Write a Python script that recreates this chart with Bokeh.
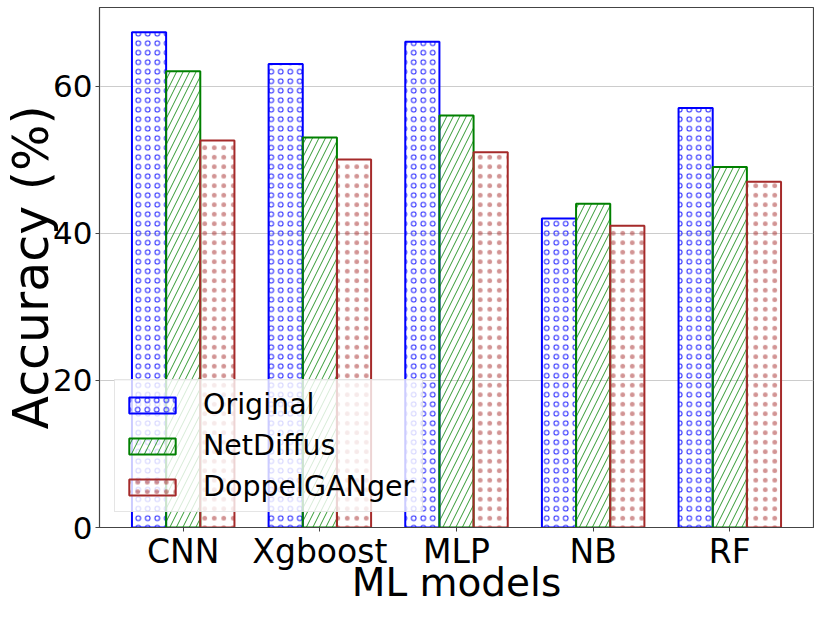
from bokeh.plotting import figure
from bokeh.models import ColumnDataSource, FixedTicker, Range1d, Legend, LegendItem
from bokeh.embed import file_html
from bokeh.resources import INLINE

models = ["CNN", "Xgboost", "MLP", "NB", "RF"]
original = [67.3, 63.0, 66.0, 42.0, 57.0]
netdiffus = [62.0, 53.0, 56.0, 44.0, 49.0]
doppelganger = [52.6, 50.0, 51.0, 41.0, 47.0]
series_names = ["Original", "NetDiffus", "DoppelGANger"]
y_ticks = [0, 20, 40, 60]

FONT = "DejaVu Sans"
bar_w = 0.25
idx = list(range(len(models)))

p = figure(width=814, height=607, output_backend="svg", toolbar_location=None,
           x_range=Range1d(-0.6125, 4.6125), y_range=Range1d(0, 70.67),
           min_border_left=97, min_border_bottom=80, min_border_top=7, min_border_right=1)

styles = [
    (original, -bar_w, "#0000ff", "ring", 9.5, 1.0, 0.85),
    (netdiffus, 0.0, "#008000", "right_diagonal_line", 13, 1.0, 0.8),
    (doppelganger, bar_w, "#a52a2a", "dot", 9.5, 1.0, 0.5),
]
renderers = []
for vals, off, col, hatch, hs, hw, ha in styles:
    src = ColumnDataSource(dict(x=[i + off for i in idx], top=vals))
    r = p.vbar(x="x", top="top", width=bar_w, bottom=0, source=src,
               fill_alpha=0, line_color=col, line_width=2,
               hatch_pattern=hatch, hatch_color=col, hatch_scale=hs,
               hatch_weight=hw, hatch_alpha=ha)
    renderers.append(r)

legend = Legend(items=[LegendItem(label=n, renderers=[r]) for n, r in zip(series_names, renderers)],
                location="bottom_left")
legend.margin = 15
legend.padding = 8
legend.spacing = 8
legend.glyph_width = 58
legend.glyph_height = 20
legend.label_standoff = 22
legend.label_text_font = FONT
legend.label_text_font_size = "28.5px"
legend.label_text_color = "black"
legend.border_line_color = "#cccccc"
legend.border_line_width = 1
legend.background_fill_alpha = 0.8
p.add_layout(legend)

p.xaxis.ticker = FixedTicker(ticks=idx)
p.xaxis.major_label_overrides = {i: m for i, m in zip(idx, models)}
p.yaxis.ticker = FixedTicker(ticks=y_ticks)
p.xaxis.axis_label = "ML models"
p.yaxis.axis_label = "Accuracy (%)"
for ax in (p.xaxis, p.yaxis):
    ax.axis_label_text_font = FONT
    ax.axis_label_text_font_style = "normal"
    ax.axis_label_text_color = "black"
    ax.major_label_text_font = FONT
    ax.major_label_text_color = "black"
    ax.major_tick_out = 4
    ax.major_tick_in = 0
    ax.minor_tick_out = 0
    ax.minor_tick_in = 0
    ax.axis_line_color = "#444444"
    ax.major_tick_line_color = "#444444"

p.xaxis.axis_label_text_font_size = "39px"
p.xaxis.major_label_text_font_size = "33px"
p.xaxis.major_label_standoff = 0
p.xaxis.axis_label_standoff = -14
p.yaxis.axis_label_text_font_size = "49px"
p.yaxis.major_label_text_font_size = "31px"
p.yaxis.major_label_standoff = 3
p.yaxis.axis_label_standoff = -10

p.xgrid.grid_line_color = None
p.ygrid.grid_line_color = "#cccccc"
p.ygrid.grid_line_width = 1.2
p.outline_line_color = "#444444"
p.outline_line_alpha = 1
p.outline_line_width = 1.2

open("out.html", "w").write(file_html(p, INLINE))
